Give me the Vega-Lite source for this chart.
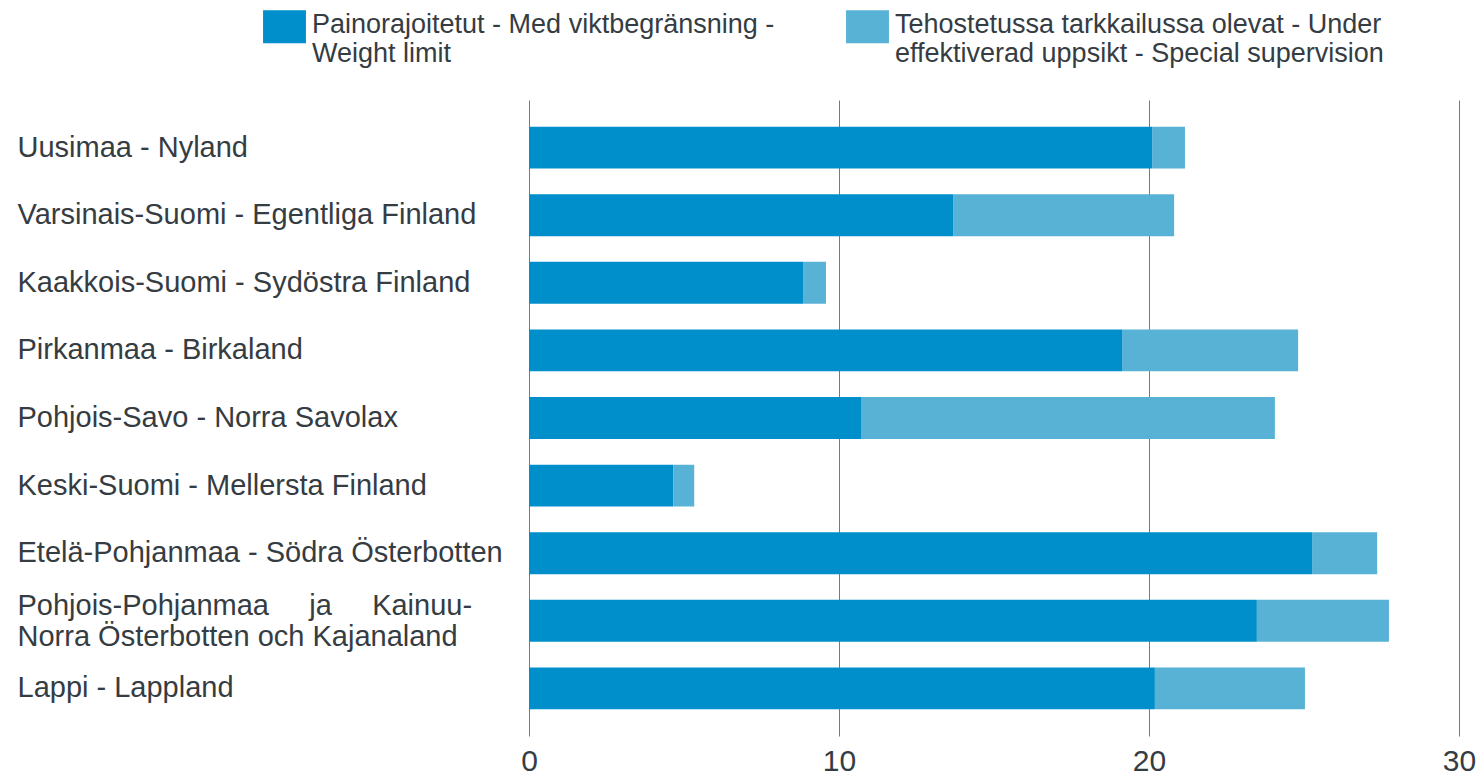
{
  "$schema": "https://vega.github.io/schema/vega-lite/v6.json",
  "width": 930,
  "height": 636,
  "autosize": {"type": "none"},
  "padding": {"left": 529, "top": 100, "right": 22, "bottom": 40},
  "background": "white",
  "config": {
    "view": {"stroke": null},
    "font": "Liberation Sans",
    "axis": {"labelFont": "Liberation Sans", "labelColor": "#353c42"},
    "legend": {"labelFont": "Liberation Sans", "labelColor": "#353c42"}
  },
  "data": {
    "values": [
      {"region": "Uusimaa - Nyland", "type": "Painorajoitetut - Med viktbegränsning - Weight limit", "order": 1, "value": 20.1},
      {"region": "Uusimaa - Nyland", "type": "Tehostetussa tarkkailussa olevat - Under effektiverad uppsikt - Special supervision", "order": 2, "value": 1.06},
      {"region": "Varsinais-Suomi - Egentliga Finland", "type": "Painorajoitetut - Med viktbegränsning - Weight limit", "order": 1, "value": 13.68},
      {"region": "Varsinais-Suomi - Egentliga Finland", "type": "Tehostetussa tarkkailussa olevat - Under effektiverad uppsikt - Special supervision", "order": 2, "value": 7.13},
      {"region": "Kaakkois-Suomi - Sydöstra Finland", "type": "Painorajoitetut - Med viktbegränsning - Weight limit", "order": 1, "value": 8.84},
      {"region": "Kaakkois-Suomi - Sydöstra Finland", "type": "Tehostetussa tarkkailussa olevat - Under effektiverad uppsikt - Special supervision", "order": 2, "value": 0.74},
      {"region": "Pirkanmaa - Birkaland", "type": "Painorajoitetut - Med viktbegränsning - Weight limit", "order": 1, "value": 19.13},
      {"region": "Pirkanmaa - Birkaland", "type": "Tehostetussa tarkkailussa olevat - Under effektiverad uppsikt - Special supervision", "order": 2, "value": 5.68},
      {"region": "Pohjois-Savo - Norra Savolax", "type": "Painorajoitetut - Med viktbegränsning - Weight limit", "order": 1, "value": 10.71},
      {"region": "Pohjois-Savo - Norra Savolax", "type": "Tehostetussa tarkkailussa olevat - Under effektiverad uppsikt - Special supervision", "order": 2, "value": 13.35},
      {"region": "Keski-Suomi - Mellersta Finland", "type": "Painorajoitetut - Med viktbegränsning - Weight limit", "order": 1, "value": 4.65},
      {"region": "Keski-Suomi - Mellersta Finland", "type": "Tehostetussa tarkkailussa olevat - Under effektiverad uppsikt - Special supervision", "order": 2, "value": 0.68},
      {"region": "Etelä-Pohjanmaa - Södra Österbotten", "type": "Painorajoitetut - Med viktbegränsning - Weight limit", "order": 1, "value": 25.26},
      {"region": "Etelä-Pohjanmaa - Södra Österbotten", "type": "Tehostetussa tarkkailussa olevat - Under effektiverad uppsikt - Special supervision", "order": 2, "value": 2.1},
      {"region": "Pohjois-Pohjanmaa ja Kainuu-Norra Österbotten och Kajanaland", "type": "Painorajoitetut - Med viktbegränsning - Weight limit", "order": 1, "value": 23.48},
      {"region": "Pohjois-Pohjanmaa ja Kainuu-Norra Österbotten och Kajanaland", "type": "Tehostetussa tarkkailussa olevat - Under effektiverad uppsikt - Special supervision", "order": 2, "value": 4.26},
      {"region": "Lappi - Lappland", "type": "Painorajoitetut - Med viktbegränsning - Weight limit", "order": 1, "value": 20.19},
      {"region": "Lappi - Lappland", "type": "Tehostetussa tarkkailussa olevat - Under effektiverad uppsikt - Special supervision", "order": 2, "value": 4.84}
    ]
  },
  "mark": {"type": "bar"},
  "encoding": {
    "y": {
      "field": "region",
      "type": "nominal",
      "sort": null,
      "scale": {"paddingInner": 0.38, "paddingOuter": 0.395},
      "axis": {
        "title": null,
        "domain": false,
        "ticks": false,
        "labelAlign": "left",
        "labelPadding": 512,
        "labelFontSize": 29,
        "labelLimit": 520,
        "labelLineHeight": 31,
        "labelOffset": {"condition": {"test": "datum.value == 'Pohjois-Pohjanmaa ja Kainuu-Norra Österbotten och Kajanaland'", "value": -15}, "value": 0},
        "labelExpr": "datum.label == 'Pohjois-Pohjanmaa ja Kainuu-Norra Österbotten och Kajanaland' ? ['Pohjois-Pohjanmaa\u00a0\u00a0\u00a0\u00a0\u00a0ja\u00a0\u00a0\u00a0\u00a0\u00a0Kainuu-', 'Norra Österbotten och Kajanaland'] : datum.label"
      }
    },
    "x": {
      "field": "value",
      "type": "quantitative",
      "stack": "zero",
      "scale": {"domain": [0, 30], "nice": false},
      "axis": {
        "title": null,
        "values": [0, 10, 20, 30],
        "domain": false,
        "ticks": false,
        "grid": true,
        "gridColor": "#7a7a7a",
        "gridWidth": 1,
        "gridOpacity": 1,
        "labelFontSize": 30,
        "labelPadding": 10,
        "labelFlush": false
      }
    },
    "color": {
      "field": "type",
      "type": "nominal",
      "sort": ["Painorajoitetut - Med viktbegränsning - Weight limit", "Tehostetussa tarkkailussa olevat - Under effektiverad uppsikt - Special supervision"],
      "scale": {"range": ["#008fca", "#57b2d6"]},
      "legend": {
        "title": null,
        "orient": "none",
        "legendX": -261,
        "legendY": -90,
        "direction": "horizontal",
        "columns": 2,
        "padding": 0,
        "columnPadding": 71,
        "symbolType": "M-1.3,-1H1.3V1H-1.3Z",
        "symbolSize": 1089,
        "symbolStrokeWidth": 0,
        "symbolOpacity": 1,
        "labelFontSize": 27,
        "labelLimit": 640,
        "labelOffset": 11,
        "labelLineHeight": 31,
        "labelBaseline": "top",
        "labelExpr": "datum.label == 'Painorajoitetut - Med viktbegränsning - Weight limit' ? ['Painorajoitetut - Med viktbegränsning -', 'Weight limit'] : ['Tehostetussa tarkkailussa olevat - Under', 'effektiverad uppsikt - Special supervision']",
        "encode": {"labels": {"update": {"dy": {"value": -15}}}}
      }
    },
    "order": {"field": "order", "type": "quantitative"}
  }
}
